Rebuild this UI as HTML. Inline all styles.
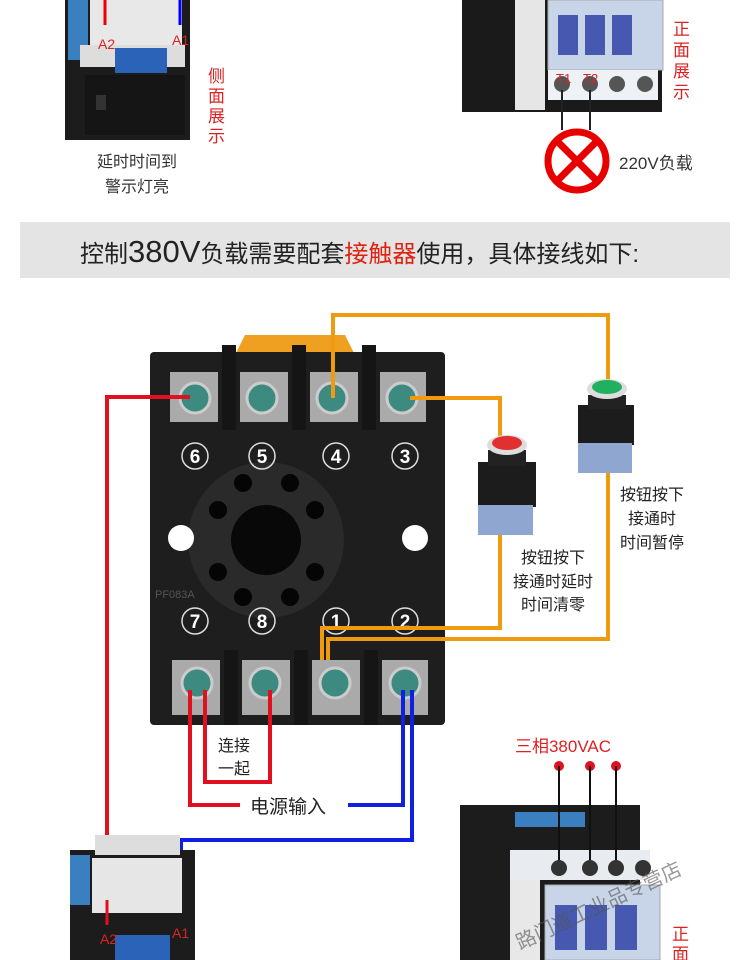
<!DOCTYPE html>
<html><head><meta charset="utf-8"><style>
html,body{margin:0;padding:0;background:#fff}
svg{display:block}
text{font-family:"Liberation Sans","Noto Sans CJK SC",sans-serif}
</style></head><body>
<svg width="750" height="960" viewBox="0 0 750 960" xmlns="http://www.w3.org/2000/svg">
<!-- top left contactor -->
<rect x="65" y="0" width="125" height="140" fill="#1c1c1c"/>
<rect x="68" y="0" width="20" height="60" fill="#3a7fc0"/>
<rect x="90" y="0" width="92" height="45" fill="#e8e8e8"/>
<rect x="80" y="45" width="105" height="22" fill="#ddd"/>
<rect x="115" y="48" width="52" height="25" fill="#2a63b8"/>
<rect x="85" y="75" width="100" height="60" fill="#151515"/>
<rect x="96" y="95" width="10" height="15" fill="#333"/>
<line x1="105" y1="0" x2="105" y2="25" stroke="#e00" stroke-width="3"/>
<line x1="180" y1="0" x2="180" y2="25" stroke="#00f" stroke-width="3"/>
<text x="98" y="49" font-size="14" fill="#d22">A2</text>
<text x="172" y="45" font-size="14" fill="#d22">A1</text>
<text x="137" y="167" font-size="16" fill="#333" text-anchor="middle">延时时间到</text>
<text x="137" y="192" font-size="16" fill="#333" text-anchor="middle">警示灯亮</text>
<text font-size="17" fill="#d22" x="208" y="82">侧</text>
<text font-size="17" fill="#d22" x="208" y="102">面</text>
<text font-size="17" fill="#d22" x="208" y="122">展</text>
<text font-size="17" fill="#d22" x="208" y="142">示</text>
<!-- top right contactor -->
<rect x="462" y="0" width="200" height="112" fill="#1a1a1a"/>
<rect x="515" y="0" width="30" height="110" fill="#e6e6e6"/>
<rect x="548" y="0" width="115" height="70" fill="#c8d4e8" stroke="#aaa"/>
<rect x="558" y="15" width="20" height="40" fill="#4658b0"/>
<rect x="585" y="15" width="20" height="40" fill="#4658b0"/>
<rect x="612" y="15" width="20" height="40" fill="#4658b0"/>
<rect x="548" y="70" width="110" height="30" fill="#eef2f6"/>
<circle cx="562" cy="84" r="8" fill="#555"/><circle cx="590" cy="84" r="8" fill="#555"/><circle cx="617" cy="84" r="8" fill="#555"/><circle cx="645" cy="84" r="8" fill="#555"/>
<text x="556" y="83" font-size="13" fill="#d22">T1</text><text x="583" y="83" font-size="13" fill="#d22">T2</text>
<line x1="562" y1="90" x2="562" y2="130" stroke="#222" stroke-width="2"/>
<line x1="590" y1="90" x2="590" y2="130" stroke="#222" stroke-width="2"/>
<circle cx="577" cy="161" r="29" fill="none" stroke="#e60000" stroke-width="7"/>
<line x1="557" y1="141" x2="597" y2="181" stroke="#e60000" stroke-width="7"/>
<line x1="597" y1="141" x2="557" y2="181" stroke="#e60000" stroke-width="7"/>
<text x="619" y="169" font-size="17" fill="#333">220V负载</text>
<text font-size="17" fill="#d22" x="673" y="35">正</text>
<text font-size="17" fill="#d22" x="673" y="56">面</text>
<text font-size="17" fill="#d22" x="673" y="77">展</text>
<text font-size="17" fill="#d22" x="673" y="98">示</text>
<!-- banner -->
<rect x="20" y="222" width="710" height="56" fill="#e4e4e4"/>
<text x="80" y="262" font-size="24" fill="#222">控制<tspan font-size="31">380V</tspan>负载需要配套<tspan fill="#d21">接触器</tspan>使用，具体接线如下:</text>
<!-- socket -->
<path d="M235 355 L245 335 L345 335 L355 355 Z" fill="#f0a020"/>
<rect x="150" y="352" width="295" height="373" rx="4" fill="#1e1e1e"/>
<g fill="#151515"><rect x="222" y="345" width="14" height="85"/><rect x="292" y="345" width="14" height="85"/><rect x="362" y="345" width="14" height="85"/>
<rect x="224" y="650" width="14" height="75"/><rect x="294" y="650" width="14" height="75"/><rect x="364" y="650" width="14" height="75"/></g>
<g fill="#aaa"><rect x="170" y="372" width="48" height="50"/><rect x="240" y="372" width="48" height="50"/><rect x="310" y="372" width="48" height="50"/><rect x="380" y="372" width="46" height="50"/>
<rect x="172" y="660" width="48" height="55"/><rect x="242" y="660" width="48" height="55"/><rect x="312" y="660" width="48" height="55"/><rect x="382" y="660" width="46" height="55"/></g>
<g fill="#3c8a80" stroke="#ccc" stroke-width="3"><circle cx="195" cy="398" r="15"/><circle cx="262" cy="398" r="15"/><circle cx="332" cy="398" r="15"/><circle cx="402" cy="398" r="15"/>
<circle cx="197" cy="683" r="15"/><circle cx="265" cy="683" r="15"/><circle cx="335" cy="683" r="15"/><circle cx="405" cy="683" r="15"/></g>
<circle cx="266" cy="540" r="78" fill="#2a2a2a"/>
<circle cx="266" cy="540" r="35" fill="#080808"/>
<g fill="#050505"><circle cx="243" cy="483" r="9"/><circle cx="290" cy="483" r="9"/><circle cx="218" cy="510" r="9"/><circle cx="315" cy="510" r="9"/><circle cx="218" cy="572" r="9"/><circle cx="315" cy="572" r="9"/><circle cx="243" cy="597" r="9"/><circle cx="290" cy="597" r="9"/></g>
<circle cx="181" cy="538" r="13" fill="#fff"/><circle cx="415" cy="538" r="13" fill="#fff"/>
<g fill="none" stroke="#ddd" stroke-width="1.5"><circle cx="195" cy="456" r="13"/><circle cx="262" cy="456" r="13"/><circle cx="336" cy="456" r="13"/><circle cx="405" cy="456" r="13"/><circle cx="195" cy="621" r="13"/><circle cx="262" cy="621" r="13"/><circle cx="336" cy="621" r="13"/><circle cx="405" cy="621" r="13"/></g>
<g fill="#fff" font-size="19" font-weight="bold" text-anchor="middle"><text x="195" y="463">6</text><text x="262" y="463">5</text><text x="336" y="463">4</text><text x="405" y="463">3</text><text x="195" y="628">7</text><text x="262" y="628">8</text><text x="336" y="628">1</text><text x="405" y="628">2</text></g>
<text x="155" y="598" font-size="11" fill="#555">PF083A</text>
<!-- orange wires -->
<g fill="none" stroke="#f09a10" stroke-width="4">
<path d="M333 398 V315 H608 V385"/>
<path d="M608 470 V639 H328 V660"/>
<path d="M410 398 H500 V440"/>
<path d="M500 530 V628 H322 V660"/>
</g>
<!-- buttons -->
<rect x="478" y="462" width="58" height="45" fill="#1c1c1c"/><rect x="478" y="505" width="55" height="30" fill="#8ea6d0"/>
<rect x="488" y="450" width="38" height="16" fill="#222"/><ellipse cx="507" cy="445" rx="20" ry="10" fill="#ddd"/><ellipse cx="507" cy="443" rx="15" ry="7" fill="#e03030"/>
<rect x="578" y="405" width="56" height="40" fill="#1c1c1c"/><rect x="578" y="443" width="54" height="30" fill="#8ea6d0"/>
<rect x="588" y="395" width="38" height="14" fill="#222"/><ellipse cx="607" cy="389" rx="20" ry="10" fill="#ddd"/><ellipse cx="607" cy="387" rx="15" ry="7" fill="#20b060"/>
<g font-size="16" fill="#222" text-anchor="middle"><text x="553" y="563">按钮按下</text><text x="553" y="587">接通时延时</text><text x="553" y="610">时间清零</text>
<text x="652" y="500">按钮按下</text><text x="652" y="524">接通时</text><text x="652" y="548">时间暂停</text></g>
<!-- red / blue wires -->
<g fill="none" stroke-width="4">
<path d="M190 397 H107 V945" stroke="#e01020"/>
<path d="M190 690 V805 H240" stroke="#e01020"/>
<path d="M205 690 V782 H270 V690" stroke="#e01020"/>
<path d="M403 690 V805 H348" stroke="#1020e0"/>
<path d="M412 690 V840 H181 V905" stroke="#1020e0"/>
</g>
<text x="218" y="751" font-size="16" fill="#222">连接</text>
<text x="218" y="774" font-size="16" fill="#222">一起</text>
<text x="250" y="813" font-size="19" fill="#222">电源输入</text>
<!-- bottom left contactor -->
<rect x="70" y="850" width="125" height="110" fill="#1c1c1c"/>
<rect x="95" y="835" width="85" height="20" fill="#ddd"/>
<rect x="70" y="855" width="20" height="50" fill="#3a7fc0"/>
<rect x="92" y="858" width="90" height="55" fill="#e6e6e6"/>
<rect x="115" y="935" width="55" height="25" fill="#2a63b8"/>
<line x1="107" y1="900" x2="107" y2="925" stroke="#e01020" stroke-width="3"/>
<text x="100" y="944" font-size="14" fill="#d22">A2</text><text x="172" y="938" font-size="14" fill="#d22">A1</text>
<!-- bottom right contactor -->
<text x="563" y="752" font-size="17" fill="#d22" text-anchor="middle">三相380VAC</text>
<rect x="460" y="805" width="180" height="155" fill="#1c1c1c"/>
<rect x="515" y="812" width="70" height="15" fill="#3a7fc0"/>
<rect x="510" y="850" width="140" height="30" fill="#e8ecf0"/>
<rect x="510" y="880" width="30" height="80" fill="#e8e8e8"/>
<rect x="545" y="885" width="115" height="75" fill="#c8d4e8" stroke="#aaa"/>
<rect x="555" y="905" width="22" height="45" fill="#4658b0"/><rect x="585" y="905" width="22" height="45" fill="#4658b0"/><rect x="615" y="905" width="22" height="45" fill="#4658b0"/>
<g fill="#e01020"><circle cx="559" cy="766" r="5"/><circle cx="590" cy="766" r="5"/><circle cx="616" cy="766" r="5"/></g>
<g stroke="#111" stroke-width="2"><line x1="559" y1="766" x2="559" y2="866"/><line x1="590" y1="766" x2="590" y2="866"/><line x1="616" y1="766" x2="616" y2="866"/></g>
<g fill="#333"><circle cx="559" cy="868" r="8"/><circle cx="590" cy="868" r="8"/><circle cx="616" cy="868" r="8"/><circle cx="643" cy="868" r="8"/></g>
<text font-size="17" fill="#d22" x="672" y="940">正</text><text font-size="17" fill="#d22" x="672" y="960">面</text>
<text x="520" y="950" font-size="20" fill="#555" opacity="0.6" transform="rotate(-25 520 950)">路门道工业品专营店</text>
</svg>
</body></html>
